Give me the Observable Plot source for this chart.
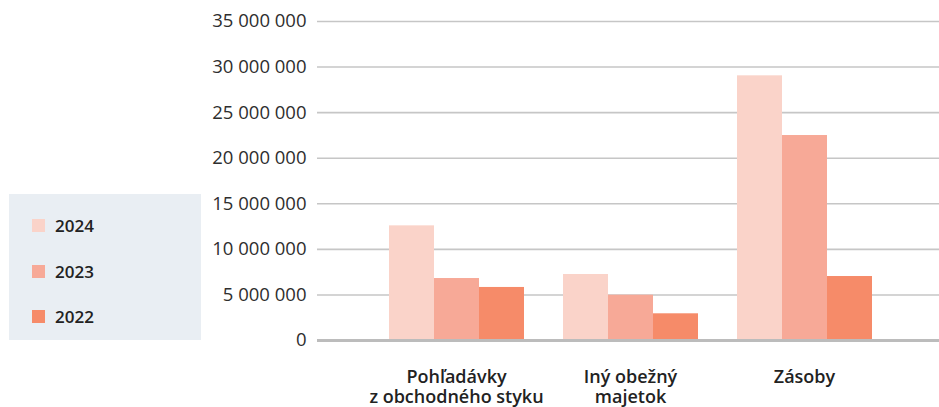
<!DOCTYPE html>
<html>
<head>
<meta charset="utf-8">
<script src="https://cdn.jsdelivr.net/npm/d3@7"></script>
<script src="https://cdn.jsdelivr.net/npm/@observablehq/plot@0.6"></script>
<style>
  html, body { margin: 0; padding: 0; background: #fff; }
  #wrap { position: relative; width: 939px; height: 407px; overflow: hidden; font-family: "Open Sans", sans-serif; }
  .layer { position: absolute; left: 0; top: 0; }
  #legend { position: absolute; left: 9px; top: 194px; width: 192px; height: 146px; background: #e9eef3; }
  .item { position: absolute; left: 23px; display: flex; align-items: center; height: 20px; }
  .sw { width: 13px; height: 13px; margin-right: 10px; }
  .lab { font-size: 17px; font-weight: 600; color: #222; }
</style>
</head>
<body>
<div id="wrap">
  <div id="back" class="layer"></div>
  <div id="front" class="layer"></div>
  <div id="base" class="layer"></div>
  <div id="legend"></div>
</div>
<script>
const categories = ["Pohľadávky z obchodného styku", "Iný obežný majetok", "Zásoby"];
const categoryLabels = ["Pohľadávky\nz obchodného styku", "Iný obežný\nmajetok", "Zásoby"];
const years = ["2024", "2023", "2022"];
const values2024 = [12580000, 7240000, 29040000];
const values2023 = [6800000, 4970000, 22490000];
const values2022 = [5820000, 2930000, 7020000];
const yTicks = [0, 5000000, 10000000, 15000000, 20000000, 25000000, 30000000, 35000000];
const colors = ["#fad3c9", "#f7a997", "#f68b69"];

const series = [values2024, values2023, values2022];
const data = [];
categories.forEach((c, i) => {
  years.forEach((y, j) => data.push({category: c, year: y, value: series[j][i]}));
});

const fmt = v => d3.format(",")(v).replace(/,/g, " ");

const common = {
  width: 939,
  height: 407,
  marginLeft: 317,
  marginRight: 0,
  marginTop: 21,
  marginBottom: 67,
  style: {fontFamily: "Open Sans, sans-serif", fontSize: "18px", color: "#222", background: "transparent"},
  y: {domain: [0, 35000000], axis: null}
};

// Background: grid and y axis across the full frame
const back = Plot.plot({
  ...common,
  marks: [
    Plot.gridY(yTicks.filter(d => d > 0), {stroke: "#c6c6c6", strokeOpacity: 1, strokeWidth: 1.6}),
    Plot.axisY(yTicks, {anchor: "left", tickSize: 0, tickPadding: 11, tickFormat: fmt, fill: "#2e2e2e", fontSize: 18.5, label: null})
  ]
});
document.getElementById("back").appendChild(back);

// Foreground: grouped bars and category labels
const front = Plot.plot({
  ...common,
  fx: {domain: categories, paddingInner: 0.216, paddingOuter: 0.388, align: 0.515, axis: null, label: null},
  x: {domain: years, padding: 0, axis: null},
  color: {domain: years, range: colors},
  marks: [
    Plot.barY(data, {fx: "category", x: "year", y: "value", fill: "year", inset: 0}),
    Plot.axisFx({anchor: "bottom", tickSize: 0, tickPadding: 28, tickFormat: d => categoryLabels[categories.indexOf(d)], fontSize: 18, fontWeight: 600, lineHeight: 1.12, fill: "#222", label: null})
  ]
});
document.getElementById("front").appendChild(front);

// Baseline on top of bars
const base = Plot.plot({
  ...common,
  marks: [Plot.ruleY([0], {stroke: "#bcbcbc", strokeWidth: 3})]
});
document.getElementById("base").appendChild(base);

const legend = document.getElementById("legend");
const rowTops = [21, 67, 112];
years.forEach((y, i) => {
  const item = document.createElement("div");
  item.className = "item";
  item.style.top = rowTops[i] + "px";
  item.innerHTML = `<div class="sw" style="background:${colors[i]}"></div><span class="lab">${y}</span>`;
  legend.appendChild(item);
});
</script>
</body>
</html>
